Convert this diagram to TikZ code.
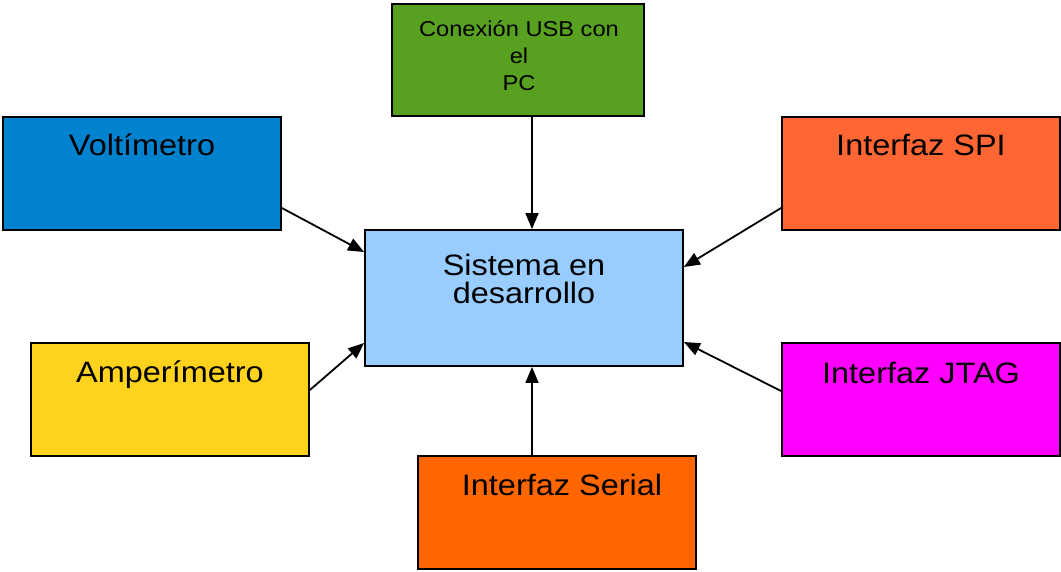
\documentclass[tikz,border=0pt]{standalone}
\usepackage{fontspec}
\setmainfont[FakeStretch=1.1]{Liberation Sans}
\usetikzlibrary{arrows.meta}
\definecolor{usbgreen}{HTML}{58A01F}
\definecolor{voltblue}{HTML}{0082CF}
\definecolor{spiorange}{HTML}{FF6633}
\definecolor{sysblue}{HTML}{99CCFF}
\definecolor{ampyellow}{HTML}{FFD21E}
\definecolor{jtagmag}{HTML}{FF00FF}
\definecolor{serorange}{HTML}{FF6600}
\tikzset{
  box/.style={draw=black, line width=1.8pt, rectangle, inner sep=0pt},
  lbl/.style={inner sep=0pt, anchor=base, font=\fontsize{29.5}{28}\selectfont, align=center},
  small/.style={inner sep=0pt, anchor=base, font=\fontsize{21.5}{27}\selectfont, align=center},
  conn/.style={line width=1.8pt, -{Triangle[length=16pt,width=13pt]}}
}
\begin{document}
\begin{tikzpicture}[x=1pt,y=-1pt]
\useasboundingbox (0,0) rectangle (1061,571);
\node[box, fill=usbgreen, minimum width=252pt, minimum height=112pt] (usb) at (518,60) {};
\node[box, fill=voltblue, minimum width=278pt, minimum height=113pt] (volt) at (142,173.5) {};
\node[box, fill=spiorange, minimum width=278pt, minimum height=113pt] (spi) at (921,173.5) {};
\node[box, fill=sysblue, minimum width=318pt, minimum height=136pt] (sys) at (524,298) {};
\node[box, fill=ampyellow, minimum width=278pt, minimum height=113pt] (amp) at (170,399.5) {};
\node[box, fill=jtagmag, minimum width=278pt, minimum height=113pt] (jtag) at (921,399.5) {};
\node[box, fill=serorange, minimum width=278pt, minimum height=113pt] (ser) at (557,512.5) {};

\node[small] (usbt) at (519,90) {Conexión USB con\\el\\PC};
\node[lbl] (voltt) at (142,155) {Voltímetro};
\node[lbl] (spit) at (921,155) {Interfaz SPI};
\node[lbl] (syst) at (524,303) {Sistema en\\desarrollo};
\node[lbl] (ampt) at (170,382) {Amperímetro};
\node[lbl] (jtagt) at (921,383) {Interfaz JTAG};
\node[lbl] (sert) at (562,495) {Interfaz Serial};

\draw[conn] ([xshift=14pt]usb.south) -- ([xshift=8pt]sys.north);
\draw[conn] ([xshift=-25pt]ser.north) -- ([xshift=8pt]sys.south);
\draw[conn] ([yshift=-34.5pt]volt.east) -- ([yshift=46pt]sys.west);
\draw[conn] ([yshift=-34.5pt]spi.west) -- ([yshift=31pt]sys.east);
\draw[conn] ([yshift=9.5pt]amp.east) -- ([yshift=-45pt]sys.west);
\draw[conn] ([yshift=8.5pt]jtag.west) -- ([yshift=-44pt]sys.east);
\end{tikzpicture}
\end{document}
